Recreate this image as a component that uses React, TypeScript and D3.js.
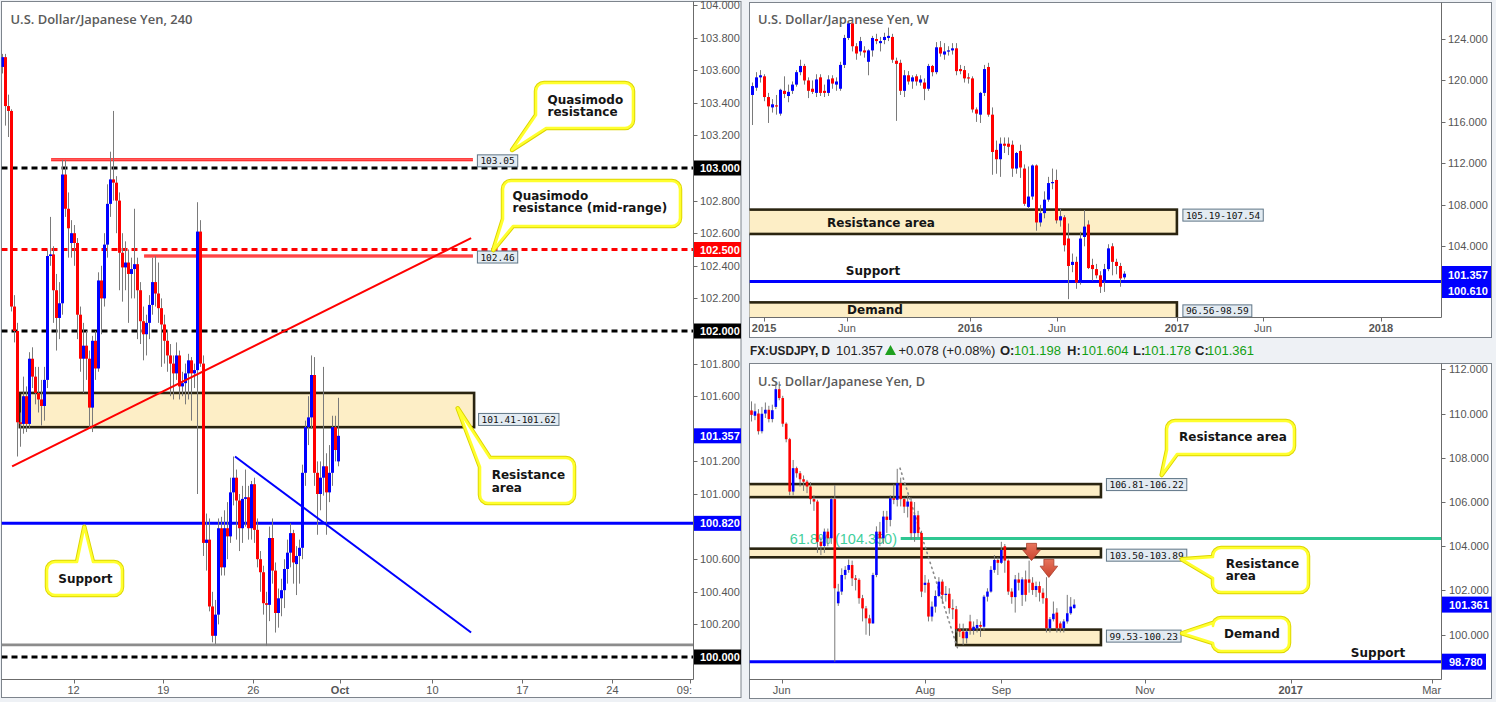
import React from 'react';
import * as d3 from 'd3';

type OHLC = [number, number, number, number]; // open, high, low, close

// ---------------- 4H chart (left) ----------------
const h4Candles: OHLC[] = [
  [103.62, 103.70, 103.58, 103.68], [103.68, 103.70, 103.26, 103.38], [103.38, 103.45, 103.19, 103.35], [103.35, 103.36, 102.12, 102.15],
  [102.15, 102.22, 101.93, 102.00], [102.00, 102.05, 101.23, 101.44], [101.44, 101.50, 101.29, 101.43], [101.43, 101.72, 101.37, 101.60],
  [101.60, 101.66, 101.38, 101.43], [101.43, 101.87, 101.40, 101.83], [101.83, 101.90, 101.65, 101.72], [101.72, 101.78, 101.55, 101.62],
  [101.62, 101.78, 101.50, 101.58], [101.58, 101.70, 101.42, 101.54], [101.54, 101.78, 101.45, 101.70], [101.70, 102.50, 101.65, 102.46],
  [102.46, 102.70, 102.40, 102.47], [102.47, 102.52, 102.05, 102.25], [102.25, 102.35, 101.88, 102.08], [102.08, 102.30, 101.95, 102.17],
  [102.17, 103.05, 102.10, 102.96], [102.96, 103.05, 102.70, 102.75], [102.75, 102.85, 102.45, 102.63], [102.54, 102.68, 102.45, 102.60],
  [102.60, 102.65, 102.40, 102.54], [102.54, 102.57, 101.95, 102.10], [102.10, 102.15, 101.75, 101.83], [101.83, 102.05, 101.62, 101.91],
  [101.91, 102.00, 101.70, 101.83], [101.83, 101.88, 101.40, 101.53], [101.53, 101.97, 101.38, 101.94], [101.94, 102.00, 101.70, 101.77],
  [101.77, 102.36, 101.75, 102.31], [102.31, 102.40, 101.98, 102.20], [102.20, 102.60, 102.15, 102.53], [102.53, 102.90, 102.45, 102.78],
  [102.78, 103.10, 102.70, 102.93], [102.93, 103.35, 102.80, 102.91], [102.91, 102.95, 102.60, 102.80], [102.80, 102.85, 102.25, 102.48],
  [102.48, 102.60, 102.18, 102.39], [102.39, 102.55, 102.25, 102.42], [102.42, 102.50, 102.05, 102.35], [102.35, 102.45, 102.20, 102.38],
  [102.38, 102.75, 102.20, 102.41], [102.41, 102.45, 101.95, 102.25], [102.25, 102.30, 101.92, 102.06], [102.06, 102.15, 101.82, 101.98],
  [101.98, 102.10, 101.85, 102.05], [102.05, 102.22, 101.95, 102.16], [102.16, 102.45, 102.10, 102.30], [102.30, 102.46, 102.15, 102.23],
  [102.23, 102.42, 102.05, 102.14], [102.14, 102.20, 101.78, 102.04], [102.04, 102.10, 101.80, 101.94], [101.94, 102.00, 101.75, 101.85],
  [101.85, 101.92, 101.60, 101.80], [101.80, 101.85, 101.58, 101.74], [101.74, 101.93, 101.70, 101.85], [101.85, 101.88, 101.58, 101.66],
  [101.66, 101.75, 101.60, 101.68], [101.68, 101.80, 101.55, 101.74], [101.74, 101.86, 101.58, 101.82], [101.82, 101.84, 101.45, 101.74],
  [101.74, 101.80, 101.65, 101.76], [101.76, 102.79, 101.00, 102.61], [102.61, 102.68, 101.78, 101.80], [101.80, 101.85, 100.62, 100.70],
  [100.70, 100.88, 100.53, 100.72], [100.72, 100.85, 100.28, 100.31], [100.31, 100.40, 100.09, 100.13], [100.13, 100.35, 100.08, 100.26],
  [100.26, 100.85, 100.20, 100.79], [100.79, 100.86, 100.50, 100.55], [100.55, 100.90, 100.50, 100.79], [100.79, 100.95, 100.60, 100.74],
  [100.74, 101.10, 100.70, 101.01], [101.01, 101.23, 100.93, 101.10], [101.10, 101.15, 100.72, 100.96], [100.96, 101.00, 100.65, 100.79],
  [100.79, 101.05, 100.70, 100.97], [100.97, 101.15, 100.80, 100.98], [100.98, 101.05, 100.72, 100.79], [100.79, 101.08, 100.72, 101.06],
  [101.06, 101.10, 100.70, 100.78], [100.78, 100.85, 100.55, 100.60], [100.60, 100.65, 100.40, 100.52], [100.52, 100.56, 100.26, 100.33],
  [100.33, 100.40, 100.07, 100.32], [100.32, 100.80, 100.22, 100.73], [100.73, 100.85, 100.45, 100.53], [100.53, 100.58, 100.15, 100.27],
  [100.27, 100.42, 100.18, 100.36], [100.36, 100.48, 100.25, 100.41], [100.41, 100.60, 100.30, 100.54], [100.54, 100.72, 100.45, 100.64],
  [100.64, 100.82, 100.55, 100.76], [100.76, 100.78, 100.45, 100.58], [100.57, 100.68, 100.38, 100.62], [100.62, 100.72, 100.45, 100.67],
  [100.67, 101.18, 100.60, 101.13], [101.13, 101.45, 101.05, 101.41], [101.41, 101.60, 101.30, 101.47], [101.47, 101.85, 101.40, 101.73],
  [101.73, 101.84, 101.05, 101.13], [101.13, 101.20, 100.75, 101.00], [101.00, 101.20, 100.90, 101.10], [101.10, 101.78, 100.99, 101.17],
  [101.17, 101.25, 100.75, 101.01], [101.01, 101.30, 100.95, 101.13], [101.13, 101.48, 101.05, 101.41], [101.41, 101.48, 101.20, 101.27],
  [101.20, 101.59, 101.17, 101.357],
];
// 101.400 sits under the 101.357 flag, so only its tick mark is drawn
const h4PriceTicks = [100.2, 100.4, 100.6, 101.0, 101.2, 101.6, 101.8, 102.2, 102.4, 102.6, 102.8, 103.2, 103.4, 103.6, 103.8, 104.0];
const h4HiddenTicks = [101.4];
const h4PriceFlags = [
  { v: 103.0, text: '103.000', bg: '#000000' },
  { v: 102.5, text: '102.500', bg: '#ff0000' },
  { v: 102.0, text: '102.000', bg: '#000000' },
  { v: 101.357, text: '101.357', bg: '#0000ff' },
  { v: 100.82, text: '100.820', bg: '#0000ff' },
  { v: 100.0, text: '100.000', bg: '#000000' },
];
const h4DateTicks = [
  { label: '12', at: 23.7, bold: false }, { label: '19', at: 53.6, bold: false }, { label: '26', at: 83.6, bold: false },
  { label: 'Oct', at: 112.5, bold: true }, { label: '10', at: 143.3, bold: false }, { label: '17', at: 173.3, bold: false },
  { label: '24', at: 203.3, bold: false }, { label: '09:', at: 229, bold: false },
];
const h4DashedLevels = [
  { v: 103.0, color: '#000000' }, { v: 102.5, color: '#ff0000' }, { v: 102.0, color: '#000000' }, { v: 100.0, color: '#000000' },
];
const h4Support = 100.82;
const h4GrayLevel = 100.074;
const h4QmLevels = [
  { v: 103.05, from: 16.2, to: 156.8, label: '103.05' },
  { v: 102.46, from: 47.2, to: 156.8, label: '102.46' },
];
const h4Zone = { lo: 101.41, hi: 101.62, from: 5.8, to: 157.2, label: '101.41-101.62' };
const h4RedTrend = { i1: 3.2, p1: 101.17, i2: 156.2, p2: 102.57 };
const h4BlueTrend = { i1: 77.5, p1: 101.23, i2: 156.2, p2: 100.15 };

// ---------------- Weekly chart (top right) ----------------
const weeklyCandles: OHLC[] = [
  [118.6, 119.8, 115.7, 119.46], [119.3, 120.8, 119.0, 120.3], [120.3, 121.0, 119.8, 120.5], [120.4, 120.6, 118.0, 118.4],
  [118.4, 118.8, 115.9, 117.5], [117.4, 118.2, 116.9, 117.7], [117.6, 118.6, 116.7, 117.5], [116.8, 119.2, 116.6, 119.1],
  [119.0, 120.4, 118.3, 118.7], [118.5, 119.6, 117.9, 118.9], [119.0, 119.9, 118.7, 119.6], [119.6, 121.0, 119.4, 120.8],
  [120.8, 122.0, 120.5, 121.4], [121.4, 121.6, 119.6, 120.0], [120.0, 120.3, 118.3, 119.0], [119.2, 120.0, 118.7, 118.9],
  [118.8, 120.6, 118.4, 120.1], [120.3, 120.6, 118.5, 118.8], [119.0, 119.6, 118.4, 118.8], [118.8, 120.5, 118.5, 120.1],
  [120.2, 120.5, 119.2, 119.7], [119.6, 120.3, 119.0, 119.9], [119.2, 121.8, 119.0, 121.5], [121.5, 124.4, 121.2, 124.1],
  [124.1, 125.6, 123.9, 125.5], [125.5, 125.7, 122.8, 123.3], [123.3, 123.6, 122.0, 122.6], [122.8, 124.2, 122.4, 123.8],
  [122.9, 123.3, 122.2, 122.7], [121.8, 123.0, 120.5, 122.9], [122.9, 124.3, 122.3, 124.1], [124.0, 124.5, 123.5, 123.8],
  [123.6, 124.2, 122.8, 123.8], [123.9, 124.6, 123.5, 124.2], [124.1, 125.1, 123.8, 124.3], [124.2, 124.5, 121.7, 122.0],
  [121.9, 122.2, 116.1, 121.6], [121.7, 122.0, 118.6, 119.0], [119.0, 121.0, 118.4, 120.5], [120.5, 120.9, 119.6, 119.9],
  [119.9, 120.5, 119.2, 120.3], [120.4, 120.6, 119.5, 119.9], [119.8, 120.5, 119.5, 120.1], [119.8, 120.2, 118.1, 119.2],
  [119.2, 121.6, 119.0, 121.4], [121.4, 121.5, 120.4, 120.8], [120.8, 123.7, 120.6, 123.2], [123.2, 123.8, 122.3, 122.6],
  [122.5, 123.6, 122.0, 122.8], [122.8, 123.3, 122.4, 122.9], [122.9, 123.6, 122.5, 123.1], [123.1, 123.6, 120.5, 120.9],
  [121.1, 121.5, 120.6, 120.9], [121.0, 121.4, 119.8, 120.2], [120.3, 120.7, 119.7, 120.2], [120.2, 120.4, 116.9, 117.2],
  [117.2, 117.4, 116.0, 116.8], [116.7, 118.9, 115.9, 118.8], [118.8, 121.5, 118.5, 121.1], [121.3, 121.7, 116.5, 116.7],
  [116.7, 117.4, 110.9, 113.1], [113.3, 114.2, 111.0, 112.4], [112.4, 114.5, 110.7, 113.9], [113.9, 114.5, 113.0, 113.7],
  [113.9, 114.5, 112.8, 113.6], [113.8, 114.2, 110.7, 111.5], [111.5, 113.1, 111.0, 113.0], [113.2, 113.8, 110.6, 111.6],
  [111.5, 111.9, 107.9, 108.1], [107.8, 111.7, 107.6, 108.8], [108.8, 111.9, 108.5, 111.8], [111.8, 111.9, 105.5, 106.3],
  [106.3, 108.0, 105.9, 107.2], [107.2, 109.3, 106.7, 108.5], [108.5, 110.7, 108.3, 110.1], [110.1, 111.5, 109.5, 110.2],
  [110.4, 111.4, 106.2, 106.5], [106.5, 107.6, 105.9, 106.9], [106.8, 107.0, 103.5, 104.1], [104.75, 106.2, 98.9, 102.1],
  [102.2, 103.3, 101.5, 102.5], [102.5, 103.0, 99.9, 100.5], [100.5, 105.4, 100.3, 104.75], [104.9, 107.5, 104.0, 105.9],
  [106.1, 106.5, 101.8, 101.9], [102.2, 102.8, 100.7, 101.8], [101.8, 102.3, 100.9, 101.2], [101.2, 101.6, 99.5, 100.1],
  [100.6, 102.3, 99.6, 101.8], [101.8, 104.2, 101.6, 103.8], [104.0, 104.3, 101.2, 102.5], [102.5, 102.8, 101.3, 102.1],
  [102.1, 102.4, 100.1, 100.9], [101.0, 101.6, 100.8, 101.357],
];
const weeklyPriceTicks = [104, 108, 112, 116, 120, 124];
const weeklyPriceFlags = [
  { v: 101.357, text: '101.357' },
  { v: 100.61, text: '100.610' },
];
const weeklyDateTicks = [
  { label: '2015', at: 2.9, bold: true }, { label: 'Jun', at: 23.6, bold: false }, { label: '2016', at: 54.4, bold: true },
  { label: 'Jun', at: 76.1, bold: false }, { label: '2017', at: 106.1, bold: true }, { label: 'Jun', at: 127.6, bold: false },
  { label: '2018', at: 157.1, bold: true },
];
const weeklyZones = [
  { lo: 105.19, hi: 107.54, to: 106.1, label: '105.19-107.54', name: 'Resistance area', labelDy: -1 },
  { lo: 96.56, hi: 98.59, to: 106.1, label: '96.56-98.59', name: 'Demand', labelDy: 2 },
];
const weeklySupport = 100.61;

// ---------------- Daily chart (bottom right) ----------------
const dailyCandles: OHLC[] = [
  [110.14, 110.55, 109.64, 109.94], [109.90, 110.45, 109.70, 110.10], [110.00, 110.20, 109.05, 109.20], [109.20, 110.30, 109.10, 109.99],
  [110.00, 110.50, 109.80, 110.17], [110.17, 110.35, 109.60, 109.75], [109.75, 110.40, 109.60, 110.15], [110.30, 111.40, 110.20, 111.10],
  [111.10, 111.45, 110.60, 110.70], [110.70, 110.80, 109.40, 109.54], [109.54, 109.60, 108.70, 108.84], [108.84, 108.90, 106.30, 106.47],
  [106.47, 107.90, 106.30, 107.53], [107.53, 107.60, 107.10, 107.30], [107.30, 107.40, 106.70, 107.03], [107.03, 107.20, 106.50, 106.92],
  [106.92, 107.00, 106.40, 106.70], [106.70, 106.90, 105.90, 106.13], [106.13, 106.30, 105.60, 106.02], [106.02, 106.10, 103.70, 104.20],
  [104.20, 104.40, 103.60, 104.01], [104.01, 104.80, 103.70, 104.66], [104.66, 104.80, 104.00, 104.36], [104.36, 106.20, 104.10, 106.13],
  [106.13, 106.77, 98.78, 102.10], [101.42, 102.30, 101.30, 101.95], [101.95, 103.00, 101.80, 102.70], [102.70, 103.10, 102.50, 102.93],
  [102.93, 103.40, 102.80, 103.15], [103.15, 103.35, 102.20, 102.55], [102.55, 102.70, 102.00, 102.48], [102.48, 102.55, 101.40, 101.65],
  [101.65, 101.80, 100.60, 101.19], [101.19, 101.30, 100.00, 100.74], [100.74, 100.90, 99.95, 100.51], [100.51, 102.80, 100.50, 102.70],
  [102.70, 104.90, 102.60, 104.66], [104.66, 105.10, 104.00, 104.36], [104.36, 105.60, 104.10, 105.34], [105.34, 105.60, 104.60, 105.19],
  [105.19, 106.30, 104.90, 106.17], [106.17, 106.80, 105.90, 106.10], [106.10, 107.50, 105.80, 106.85], [106.85, 107.10, 105.80, 106.13],
  [106.13, 106.20, 105.50, 105.79], [105.79, 106.30, 105.30, 106.02], [106.02, 106.20, 104.30, 104.59], [104.59, 106.00, 104.20, 105.40],
  [105.40, 105.60, 104.40, 104.60], [104.60, 104.70, 101.70, 101.95], [102.25, 102.70, 101.90, 102.35], [102.35, 102.50, 100.60, 100.82],
  [100.82, 101.50, 100.60, 101.27], [101.27, 102.00, 101.00, 101.75], [101.75, 102.60, 101.70, 102.40], [102.40, 102.50, 101.40, 101.80],
  [101.80, 102.20, 101.50, 101.85], [101.85, 102.10, 100.95, 101.20], [101.20, 101.60, 100.70, 101.15], [101.15, 101.30, 100.10, 100.25],
  [100.25, 100.50, 99.90, 100.14], [100.14, 100.50, 99.53, 99.84], [99.84, 100.30, 99.60, 100.14], [100.60, 100.90, 100.00, 100.20],
  [100.20, 100.60, 100.00, 100.36], [100.29, 100.70, 100.10, 100.44], [100.44, 100.60, 99.90, 100.36], [100.36, 101.80, 100.20, 101.72],
  [101.72, 102.10, 101.50, 101.95], [101.95, 103.10, 101.90, 102.93], [102.93, 103.60, 102.80, 103.38], [103.38, 103.50, 102.70, 103.25],
  [103.25, 104.20, 103.20, 103.83], [104.00, 104.10, 102.80, 103.35], [103.35, 103.40, 101.80, 101.95], [101.95, 102.10, 101.40, 101.70],
  [101.70, 102.70, 101.00, 102.50], [102.50, 102.80, 102.00, 102.35], [101.80, 102.60, 101.30, 102.50], [102.50, 102.90, 101.50, 101.80],
  [102.50, 103.35, 101.90, 102.35], [102.35, 102.60, 101.80, 102.02], [102.02, 102.40, 101.70, 102.20], [102.20, 102.40, 101.50, 101.90],
  [101.90, 102.10, 101.40, 101.65], [101.65, 102.60, 100.10, 100.29], [100.29, 100.80, 100.10, 100.70], [100.70, 101.50, 100.60, 100.95],
  [101.00, 101.20, 100.10, 100.29], [100.51, 100.60, 100.10, 100.29], [100.30, 100.70, 100.10, 100.60], [100.60, 101.80, 100.50, 100.97],
  [100.97, 101.70, 100.90, 101.27], [101.20, 101.60, 101.18, 101.36],
];
const dailyPriceTicks = [100, 102, 104, 106, 108, 110, 112];
const dailyPriceFlags = [
  { v: 101.361, text: '101.361', w: 50 },
  { v: 98.78, text: '98.780', w: 44 },
];
const dailyDateTicks = [
  { label: 'Jun', at: 8.7, bold: false }, { label: 'Aug', at: 50.1, bold: false }, { label: 'Sep', at: 72.0, bold: false },
  { label: 'Nov', at: 113.4, bold: false }, { label: '2017', at: 155.4, bold: true }, { label: 'Mar', at: 196.0, bold: false },
];
const dailyZones = [
  { lo: 106.22, hi: 106.81, from: -1, to: 100.7, label: '106.81-106.22', labelDy: -6 },
  { lo: 103.50, hi: 103.89, from: -1, to: 100.7, label: '103.50-103.89', labelDy: 0 },
  { lo: 99.53, hi: 100.23, from: 59.0, to: 100.7, label: '99.53-100.23', labelDy: 0 },
];
const dailySupport = 98.78;
const dailyFibLevel = { v: 104.35, from: 43, text: '61.8% (104.350)' };
const dailyFibSwing = { i1: 42.8, p1: 107.53, i2: 59.4, p2: 99.38 };
const dailyArrows = [
  { i: 80.7, top: 104.13, tip: 103.35 },
  { i: 85.7, top: 103.41, tip: 102.59 },
];
const dailyHeader = {
  symbol: 'FX:USDJPY, D', last: '101.357', change: '+0.078 (+0.08%)',
  o: '101.198', h: '101.604', l: '101.178', c: '101.361',
};

// ---------------- styling ----------------
const PAGE_BG = '#eef1f5';
const AXIS_FONT = "'Liberation Sans', Arial, sans-serif";
const BOLD_FONT = "'DejaVu Sans', Verdana, sans-serif";
const MONO_FONT = "'DejaVu Sans Mono', monospace";
const TITLE_FONT = "'Open Sans', 'Noto Sans', sans-serif";
const UP = '#0000ff';
const DOWN = '#ff0000';
const WICK = '#7a7a7a';
const ZONE_FILL = '#fdeec6';
const ZONE_STROKE = '#2a2410';
const GREEN = '#12a012';

type Tail = { kind: 'top' | 'bottom' | 'left' | 'bl' | 'tl'; a: number; b: number; tx: number; ty: number };

function calloutPath(x: number, y: number, w: number, h: number, r: number, t: Tail) {
  const p = d3.path();
  if (t.kind === 'tl') {
    p.moveTo(x, y + t.a); p.lineTo(t.tx, t.ty); p.lineTo(x + t.b, y);
  } else {
    p.moveTo(x + r, y);
  }
  if (t.kind === 'top') { p.lineTo(x + t.a, y); p.lineTo(t.tx, t.ty); p.lineTo(x + t.b, y); }
  p.lineTo(x + w - r, y); p.arcTo(x + w, y, x + w, y + r, r);
  p.lineTo(x + w, y + h - r); p.arcTo(x + w, y + h, x + w - r, y + h, r);
  if (t.kind === 'bottom') { p.lineTo(x + t.b, y + h); p.lineTo(t.tx, t.ty); p.lineTo(x + t.a, y + h); }
  if (t.kind === 'bl') {
    p.lineTo(x + t.b, y + h); p.lineTo(t.tx, t.ty); p.lineTo(x, y + h - t.a);
  } else {
    p.lineTo(x + r, y + h); p.arcTo(x, y + h, x, y + h - r, r);
  }
  if (t.kind === 'left') { p.lineTo(x, y + t.b); p.lineTo(t.tx, t.ty); p.lineTo(x, y + t.a); }
  if (t.kind === 'tl') {
    p.closePath();
  } else {
    p.lineTo(x, y + r); p.arcTo(x, y, x + r, y, r); p.closePath();
  }
  return p.toString();
}

function Callout({ x, y, w, h, tail, lines, tx, ty }: { x: number; y: number; w: number; h: number; tail: Tail; lines: string[]; tx: number; ty: number }) {
  const d = calloutPath(x, y, w, h, 8, tail);
  return (
    <g>
      <path d={d} fill="#ffffff" stroke="#dcd400" strokeWidth={4.5} strokeLinejoin="round" />
      <path d={d} fill="#ffffff" stroke="#ffff2e" strokeWidth={2.6} strokeLinejoin="round" />
      {lines.map((s, k) => (
        <text key={k} x={tx} y={ty + k * 12.3} fontFamily={BOLD_FONT} fontWeight="bold" fontSize={12} fill="#151515">{s}</text>
      ))}
    </g>
  );
}

function LabelBox({ x, y, text }: { x: number; y: number; text: string }) {
  const w = text.length * 5.72 + 6;
  return (
    <g>
      <rect x={x + 0.5} y={y + 0.5} width={w} height={12} fill="#e3ebf2" stroke="#5f7586" strokeWidth={1} />
      <text x={x + 3.5} y={y + 10} fontFamily={MONO_FONT} fontSize={9.5} fill="#111">{text}</text>
    </g>
  );
}

function Candles({ data, x, y, bw }: { data: OHLC[]; x: (i: number) => number; y: (v: number) => number; bw: number }) {
  return (
    <g>
      {data.map((d, i) => {
        const [o, h, l, c] = d;
        const cx = x(i);
        const top = y(Math.max(o, c));
        const bot = y(Math.min(o, c));
        return (
          <g key={i}>
            <line x1={cx} x2={cx} y1={y(h)} y2={y(l)} stroke={WICK} strokeWidth={1} />
            <rect x={cx - bw / 2} y={top} width={bw} height={Math.max(1.2, bot - top)} fill={c >= o ? UP : DOWN} />
          </g>
        );
      })}
    </g>
  );
}

export default function App() {
  // ---- scales ----
  const xH = d3.scaleLinear().domain([0, 229]).range([2.5, 689.5]);
  const yH = d3.scaleLinear().domain([100, 104]).range([657, 5]);
  const xW = d3.scaleLinear().domain([0, 172.25]).range([752.5, 1441.5]);
  const yW = d3.scaleLinear().domain([104, 124]).range([246.3, 39]);
  const xD = d3.scaleLinear().domain([0, 198.7]).range([751.5, 1441]);
  const yD = d3.scaleLinear().domain([100, 112]).range([634.7, 369.3]);

  const fmt = d3.format('.3f');

  // plot frames
  const L = { x0: 1.5, x1: 693.5, y0: 1.5, y1: 679.5, right: 741, bottom: 697.5 };
  const W = { x0: 749.5, x1: 1441.5, y0: 2.5, y1: 317.5, right: 1491.5, bottom: 337.5 };
  const D = { x0: 749.5, x1: 1441.5, y0: 363.5, y1: 679.5, right: 1491.5, bottom: 698.5 };

  const axisText = { fontFamily: AXIS_FONT, fontSize: 11, fill: '#555' } as const;

  return (
    <div style={{ position: 'absolute', left: 0, top: 0, width: 1496, height: 702 }}>
      <svg width={1496} height={702} viewBox="0 0 1496 702" style={{ display: 'block' }}>
        <defs>
          <clipPath id="clipL"><rect x={L.x0} y={L.y0} width={L.x1 - L.x0} height={L.y1 - L.y0} /></clipPath>
          <clipPath id="clipW"><rect x={W.x0} y={W.y0} width={W.x1 - W.x0} height={W.y1 - W.y0} /></clipPath>
          <clipPath id="clipD"><rect x={D.x0} y={D.y0} width={D.x1 - D.x0} height={D.y1 - D.y0} /></clipPath>
          <clipPath id="clipLpanel"><rect x={0} y={0} width={L.right} height={L.bottom} /></clipPath>
          <clipPath id="clipDpanel"><rect x={D.x0} y={D.y0} width={D.right - D.x0} height={D.bottom - D.y0} /></clipPath>
          <linearGradient id="arrowGrad" x1="0" x2="0" y1="0" y2="1">
            <stop offset="0" stopColor="#e8745c" />
            <stop offset="1" stopColor="#c9432e" />
          </linearGradient>
        </defs>

        <rect x={0} y={0} width={1496} height={702} fill={PAGE_BG} />

        {/* ================= LEFT: 4H ================= */}
        <rect x={L.x0} y={L.y0} width={L.right - L.x0} height={L.bottom - L.y0} fill="#fff" stroke="#7d848c" strokeWidth={1} />
        <g clipPath="url(#clipL)">
          <text x={10.5} y={24.3} fontFamily={TITLE_FONT} fontWeight={600} fontSize={13} fill="#5a5a5a" textLength={182} lengthAdjust="spacingAndGlyphs">U.S. Dollar/Japanese Yen, 240</text>

          {/* resistance zone */}
          <rect x={xH(h4Zone.from)} y={yH(h4Zone.hi)} width={xH(h4Zone.to) - xH(h4Zone.from)} height={yH(h4Zone.lo) - yH(h4Zone.hi)}
            fill={ZONE_FILL} stroke={ZONE_STROKE} strokeWidth={2.6} />

          {/* levels */}
          <line x1={L.x0} x2={L.x1} y1={yH(h4GrayLevel)} y2={yH(h4GrayLevel)} stroke="#8c8c8c" strokeWidth={2.7} />
          {h4DashedLevels.map((l, k) => (
            <line key={k} x1={L.x0} x2={L.x1} y1={yH(l.v)} y2={yH(l.v)} stroke={l.color} strokeWidth={3} strokeDasharray="6,4" />
          ))}
          <line x1={L.x0} x2={L.x1} y1={yH(h4Support)} y2={yH(h4Support)} stroke="#0000ff" strokeWidth={3} />
          {h4QmLevels.map((l, k) => (
            <g key={k}>
              <line x1={xH(l.from)} x2={xH(l.to)} y1={yH(l.v)} y2={yH(l.v)} stroke="#ff0000" strokeWidth={3} />
              <line x1={xH(l.from)} x2={xH(l.to)} y1={yH(l.v)} y2={yH(l.v)} stroke="#ff9a9a" strokeWidth={0.9} />
            </g>
          ))}

          <Candles data={h4Candles} x={xH} y={yH} bw={3} />

          {/* trend lines */}
          <line x1={xH(h4RedTrend.i1)} y1={yH(h4RedTrend.p1)} x2={xH(h4RedTrend.i2)} y2={yH(h4RedTrend.p2)} stroke="#ff0000" strokeWidth={2} />
          <line x1={xH(h4BlueTrend.i1)} y1={yH(h4BlueTrend.p1)} x2={xH(h4BlueTrend.i2)} y2={yH(h4BlueTrend.p2)} stroke="#0000ff" strokeWidth={2} />

          {/* label boxes */}
          {h4QmLevels.map((l, k) => (
            <LabelBox key={k} x={xH(l.to) + 4} y={yH(l.v) - 5.5} text={l.label} />
          ))}
          <LabelBox x={xH(h4Zone.to) + 4} y={yH(h4Zone.hi) + 20} text={h4Zone.label} />

          {/* callouts */}
          <Callout x={536} y={83} w={97} h={45} tail={{ kind: 'bl', a: 13, b: 10, tx: 512, ty: 150 }} lines={['Quasimodo', 'resistance']} tx={547.5} ty={103.8} />
          <Callout x={503} y={181} w={177} h={45} tail={{ kind: 'bl', a: 7, b: 10, tx: 493.3, ty: 250 }} lines={['Quasimodo', 'resistance (mid-range)']} tx={512.5} ty={200} />
          <Callout x={480} y={458} w={94} h={45} tail={{ kind: 'tl', a: 9, b: 10, tx: 457.7, ty: 408.3 }} lines={['Resistance', 'area']} tx={491.7} ty={479.3} />
          <Callout x={47} y={562} w={75} h={33} tail={{ kind: 'top', a: 30, b: 46, tx: 84.3, ty: 526.7 }} lines={['Support']} tx={58.3} ty={582.5} />
        </g>

        {/* axes */}
        <line x1={L.x1} x2={L.x1} y1={L.y0} y2={L.y1} stroke="#6b6b6b" strokeWidth={1} />
        <line x1={L.x0} x2={L.x1} y1={L.y1} y2={L.y1} stroke="#6b6b6b" strokeWidth={1} />
        <g clipPath="url(#clipLpanel)">
          {h4PriceTicks.map((v) => (
            <g key={v}>
              <line x1={L.x1} x2={L.x1 + 4} y1={Math.round(yH(v)) + 0.5} y2={Math.round(yH(v)) + 0.5} stroke="#6b6b6b" />
              <text x={700} y={yH(v) + 4} {...axisText}>{fmt(v)}</text>
            </g>
          ))}
          {h4HiddenTicks.map((v) => (
            <line key={v} x1={L.x1} x2={L.x1 + 4} y1={Math.round(yH(v)) + 0.5} y2={Math.round(yH(v)) + 0.5} stroke="#6b6b6b" />
          ))}
          {h4PriceFlags.map((f) => (
            <g key={f.text}>
              <rect x={L.x1 + 0.5} y={yH(f.v) - 7.5} width={L.right - L.x1} height={15} fill={f.bg} />
              <text x={700} y={yH(f.v) + 4} fontFamily={AXIS_FONT} fontSize={11} fontWeight="bold" fill="#fff">{f.text}</text>
            </g>
          ))}
          {h4DateTicks.map((t) => (
            <g key={t.label}>
              <line x1={Math.round(xH(t.at)) + 0.5} x2={Math.round(xH(t.at)) + 0.5} y1={L.y1} y2={L.y1 + 4} stroke="#6b6b6b" />
              <text x={t.label === '09:' ? xH(t.at) - 5 : xH(t.at)} y={694} textAnchor="middle" {...axisText} fontWeight={t.bold ? 'bold' : 'normal'}>{t.label}</text>
            </g>
          ))}
        </g>

        {/* ================= TOP RIGHT: WEEKLY ================= */}
        <rect x={W.x0} y={W.y0} width={W.right - W.x0} height={W.bottom - W.y0} fill="#fff" stroke="#7d848c" strokeWidth={1} />
        <g clipPath="url(#clipW)">
          <text x={758} y={24.3} fontFamily={TITLE_FONT} fontWeight={600} fontSize={13} fill="#5a5a5a" textLength={171} lengthAdjust="spacingAndGlyphs">U.S. Dollar/Japanese Yen, W</text>
          {weeklyZones.map((z, k) => (
            <rect key={k} x={W.x0 - 2} y={yW(z.hi)} width={xW(z.to) - W.x0 + 2} height={yW(z.lo) - yW(z.hi)} fill={ZONE_FILL} stroke={ZONE_STROKE} strokeWidth={2.6} />
          ))}
          <line x1={W.x0} x2={W.x1} y1={yW(weeklySupport)} y2={yW(weeklySupport)} stroke="#0000ff" strokeWidth={3} />
          <Candles data={weeklyCandles} x={xW} y={yW} bw={3} />
          <text x={881} y={227} textAnchor="middle" fontFamily={BOLD_FONT} fontWeight="bold" fontSize={12} fill="#151515">{weeklyZones[0].name}</text>
          <text x={873} y={274.5} textAnchor="middle" fontFamily={BOLD_FONT} fontWeight="bold" fontSize={12} fill="#151515">Support</text>
          <text x={875} y={314} textAnchor="middle" fontFamily={BOLD_FONT} fontWeight="bold" fontSize={12} fill="#151515">{weeklyZones[1].name}</text>
          {weeklyZones.map((z, k) => (
            <LabelBox key={k} x={xW(z.to) + 5.5} y={yW(z.hi) + z.labelDy} text={z.label} />
          ))}
        </g>
        <line x1={W.x1} x2={W.x1} y1={W.y0} y2={W.y1} stroke="#6b6b6b" />
        <line x1={W.x0} x2={W.x1} y1={W.y1} y2={W.y1} stroke="#6b6b6b" />
        {weeklyPriceTicks.map((v) => (
          <g key={v}>
            <line x1={W.x1} x2={W.x1 + 4} y1={Math.round(yW(v)) + 0.5} y2={Math.round(yW(v)) + 0.5} stroke="#6b6b6b" />
            <text x={1448} y={yW(v) + 4} {...axisText}>{fmt(v)}</text>
          </g>
        ))}
        {weeklyPriceFlags.map((f, k) => (
          <g key={f.text}>
            <rect x={W.x1 + 0.5} y={266 + k * 16} width={W.right - W.x1 - 1} height={16} fill="#0000ff" />
            <text x={1448} y={278.5 + k * 16} fontFamily={AXIS_FONT} fontSize={11} fontWeight="bold" fill="#fff">{f.text}</text>
          </g>
        ))}
        {weeklyDateTicks.map((t, k) => (
          <g key={k}>
            <line x1={Math.round(xW(t.at)) + 0.5} x2={Math.round(xW(t.at)) + 0.5} y1={W.y1} y2={W.y1 + 4} stroke="#6b6b6b" />
            <text x={xW(t.at)} y={332} textAnchor="middle" {...axisText} fontWeight={t.bold ? 'bold' : 'normal'}>{t.label}</text>
          </g>
        ))}

        {/* ================= BOTTOM RIGHT: DAILY ================= */}
        {/* header */}
        <g fontFamily={AXIS_FONT} fontSize={13}>
          <text x={750} y={355} fontWeight="bold" fill="#222" textLength={80} lengthAdjust="spacingAndGlyphs">{dailyHeader.symbol}</text>
          <text x={836} y={355} fill="#222">{dailyHeader.last}</text>
          <polygon points="885,355 896,355 890.5,345" fill="#1fa01f" />
          <text x={898.5} y={355} fill="#222">{dailyHeader.change}</text>
          <text x={1000} y={355} fontWeight="bold" fill="#222">O:</text>
          <text x={1014} y={355} fill={GREEN}>{dailyHeader.o}</text>
          <text x={1067} y={355} fontWeight="bold" fill="#222">H:</text>
          <text x={1081.5} y={355} fill={GREEN}>{dailyHeader.h}</text>
          <text x={1133} y={355} fontWeight="bold" fill="#222">L:</text>
          <text x={1144} y={355} fill={GREEN}>{dailyHeader.l}</text>
          <text x={1195} y={355} fontWeight="bold" fill="#222">C:</text>
          <text x={1207} y={355} fill={GREEN}>{dailyHeader.c}</text>
        </g>

        <rect x={D.x0} y={D.y0} width={D.right - D.x0} height={D.bottom - D.y0} fill="#fff" stroke="#7d848c" strokeWidth={1} />
        <g clipPath="url(#clipD)">
          <text x={758} y={385.7} fontFamily={TITLE_FONT} fontWeight={600} fontSize={13} fill="#5a5a5a" textLength={167} lengthAdjust="spacingAndGlyphs">U.S. Dollar/Japanese Yen, D</text>
          {dailyZones.map((z, k) => (
            <rect key={k} x={xD(z.from)} y={yD(z.hi)} width={xD(z.to) - xD(z.from)} height={yD(z.lo) - yD(z.hi)} fill={ZONE_FILL} stroke={ZONE_STROKE} strokeWidth={2.6} />
          ))}
          <text x={897} y={544} textAnchor="end" fontFamily={AXIS_FONT} fontSize={14.5} fill="#3fcf9c">{dailyFibLevel.text}</text>
          <line x1={xD(dailyFibLevel.from)} x2={D.x1} y1={yD(dailyFibLevel.v)} y2={yD(dailyFibLevel.v)} stroke="#2fc792" strokeWidth={3} />
          <line x1={xD(dailyFibSwing.i1)} y1={yD(dailyFibSwing.p1)} x2={xD(dailyFibSwing.i2)} y2={yD(dailyFibSwing.p2)} stroke="#8a8a8a" strokeWidth={1.6} strokeDasharray="1.2,4" strokeLinecap="round" />
          <line x1={D.x0} x2={D.x1} y1={yD(dailySupport)} y2={yD(dailySupport)} stroke="#0000ff" strokeWidth={3} />
          <Candles data={dailyCandles} x={xD} y={yD} bw={2.6} />
          {dailyArrows.map((a, k) => {
            const cx = xD(a.i);
            const t = yD(a.top);
            const tip = yD(a.tip);
            const sb = t + (tip - t) * 0.38;
            const pts = [
              [cx - 5, t], [cx + 5, t], [cx + 5, sb], [cx + 8.8, sb], [cx, tip], [cx - 8.8, sb], [cx - 5, sb],
            ].map((p) => p.join(',')).join(' ');
            return <polygon key={k} points={pts} fill="url(#arrowGrad)" stroke="#a8412f" strokeWidth={0.8} />;
          })}
          {dailyZones.map((z, k) => (
            <LabelBox key={k} x={xD(z.to) + 5} y={yD(z.hi) + z.labelDy} text={z.label} />
          ))}
          <text x={1378} y={656.7} textAnchor="middle" fontFamily={BOLD_FONT} fontWeight="bold" fontSize={12} fill="#151515">Support</text>
          <Callout x={1167} y={421} w={127} h={33} tail={{ kind: 'bl', a: 4, b: 10, tx: 1161.7, ty: 475 }} lines={['Resistance area']} tx={1179} ty={440.7} />
          <Callout x={1213} y={548} w={95} h={44} tail={{ kind: 'left', a: 9, b: 30, tx: 1181.7, ty: 559.3 }} lines={['Resistance', 'area']} tx={1225.7} ty={567.7} />
          <Callout x={1213} y={618} w={76} h={33} tail={{ kind: 'left', a: 5, b: 25, tx: 1182, ty: 633.3 }} lines={['Demand']} tx={1224} ty={638.3} />
        </g>
        <line x1={D.x1} x2={D.x1} y1={D.y0} y2={D.y1} stroke="#6b6b6b" />
        <line x1={D.x0} x2={D.x1} y1={D.y1} y2={D.y1} stroke="#6b6b6b" />
        <g clipPath="url(#clipDpanel)">
          {dailyPriceTicks.map((v) => (
            <g key={v}>
              <line x1={D.x1} x2={D.x1 + 4} y1={Math.round(yD(v)) + 0.5} y2={Math.round(yD(v)) + 0.5} stroke="#6b6b6b" />
              <text x={1449} y={yD(v) + 4} {...axisText}>{fmt(v)}</text>
            </g>
          ))}
          {dailyPriceFlags.map((f) => (
            <g key={f.text}>
              <rect x={D.x1 + 0.5} y={yD(f.v) - 8} width={f.w} height={16} fill="#0000ff" />
              <text x={1449} y={yD(f.v) + 4.5} fontFamily={AXIS_FONT} fontSize={11} fontWeight="bold" fill="#fff">{f.text}</text>
            </g>
          ))}
          {dailyDateTicks.map((t, k) => (
            <g key={k}>
              <line x1={Math.round(xD(t.at)) + 0.5} x2={Math.round(xD(t.at)) + 0.5} y1={D.y1} y2={D.y1 + 4} stroke="#6b6b6b" />
              <text x={xD(t.at)} y={693.5} textAnchor="middle" {...axisText} fontWeight={t.bold ? 'bold' : 'normal'}>{t.label}</text>
            </g>
          ))}
        </g>
      </svg>
    </div>
  );
}
